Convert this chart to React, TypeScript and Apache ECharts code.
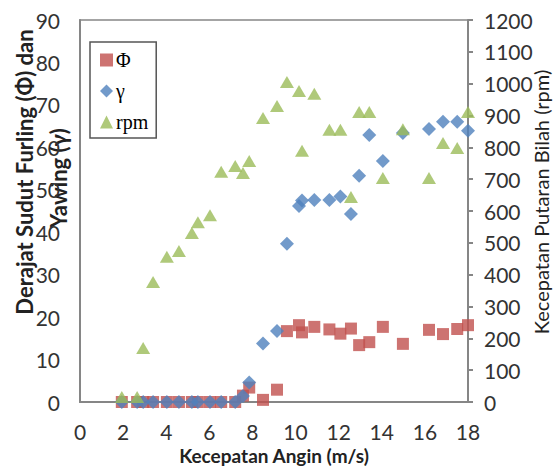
import React, { useEffect, useRef } from "react";
import * as echarts from "echarts";

const windSpeed = [1.94, 2.65, 2.93, 3.39, 4.03, 4.59, 5.19, 5.47, 6.03, 6.55, 7.2, 7.56, 7.85, 8.49, 9.14, 9.6, 10.16, 10.3, 10.87, 11.57, 12.08, 12.57, 12.95, 13.42, 14.05, 14.98, 16.19, 16.84, 17.5, 18.0];
const phiValues = [0, 0, 0, 0, 0, 0, 0, 0, 0, 0, 0, 1.5, 3.4, 0.5, 2.9, 16.7, 18.1, 16.4, 17.7, 17.1, 16.1, 17.3, 13.4, 14.1, 17.7, 13.7, 17.0, 16.0, 17.2, 18.1];
const gammaValues = [0, 0, 0, 0, 0, 0, 0, 0, 0, 0, 0, 1.4, 4.6, 13.8, 16.7, 37.3, 46.2, 47.5, 47.6, 47.6, 48.4, 44.3, 53.3, 62.9, 56.8, 63.4, 64.3, 66.0, 66.0, 63.9];
const rpmValues = [16, 16, 170, 377, 456, 474, 531, 565, 587, 723, 741, 719, 757, 892, 930, 1005, 977, 789, 968, 855, 855, 644, 911, 911, 704, 857, 704, 814, 798, 911];

const seriesNames = ["Φ", "γ", "rpm"];
const xTitle = "Kecepatan Angin (m/s)";
const leftTitle1 = "Derajat Sudut Furling (Φ) dan";
const leftTitle2 = "Yawing (γ)";
const rightTitle = "Kecepatan Putaran Bilah (rpm)";

const pair = (ys: number[]) => windSpeed.map((x, i) => [x, ys[i]]);

export default function App() {
  const ref = useRef<HTMLDivElement>(null);
  useEffect(() => {
    document.body.style.margin = "0";
    const chart = echarts.init(ref.current!, null, { renderer: "svg" });
    const font = "Lato, 'Open Sans', sans-serif";
    const axisColor = "#868686";
    const labelStyle = { color: "#333", fontSize: 21, fontFamily: font, formatter: (v: number) => String(v) };
    chart.setOption({
      animation: false,
      backgroundColor: "#fff",
      grid: { left: 80, right: 91, top: 20, bottom: 66, show: true, borderColor: axisColor, borderWidth: 1.5 },
      legend: {
        orient: "vertical",
        left: 90,
        top: 42,
        padding: [8, 8, 6, 10],
        itemGap: 11,
        itemWidth: 13,
        itemHeight: 13,
        borderColor: "#555",
        borderWidth: 1.5,
        data: seriesNames,
        textStyle: { fontFamily: "'Liberation Serif', serif", fontSize: 20, color: "#000", padding: [0, 0, 0, -2] },
      },
      xAxis: {
        type: "value",
        min: 0,
        max: 18,
        interval: 2,
        axisLine: { show: true, lineStyle: { color: axisColor, width: 2 } },
        axisTick: { show: false },
        splitLine: { show: false },
        axisLabel: { ...labelStyle, margin: 19 },
      },
      yAxis: [
        {
          type: "value",
          min: 0,
          max: 90,
          interval: 10,
          position: "left",
          axisLine: { show: true, lineStyle: { color: axisColor, width: 2 } },
          axisTick: { show: false },
          splitLine: { show: false },
          axisLabel: { ...labelStyle, margin: 20 },
        },
        {
          type: "value",
          min: 0,
          max: 1200,
          interval: 100,
          position: "right",
          axisLine: { show: true, lineStyle: { color: axisColor, width: 2 } },
          axisTick: { show: true, length: 5, lineStyle: { color: axisColor, width: 2 } },
          splitLine: { show: false },
          axisLabel: { ...labelStyle, margin: 16 },
        },
      ],
      series: [
        {
          name: seriesNames[0],
          type: "scatter",
          yAxisIndex: 0,
          symbol: "rect",
          symbolSize: 12,
          itemStyle: { color: "#C0504D" },
          data: pair(phiValues),
        },
        {
          name: seriesNames[1],
          type: "scatter",
          yAxisIndex: 0,
          symbol: "diamond",
          symbolSize: 14,
          itemStyle: { color: "#4F81BD" },
          data: pair(gammaValues),
        },
        {
          name: seriesNames[2],
          type: "scatter",
          yAxisIndex: 1,
          symbol: "triangle",
          symbolSize: [14, 12],
          itemStyle: { color: "#9BBB59" },
          data: pair(rpmValues),
        },
      ],
      graphic: [
        {
          type: "text",
          x: 274,
          y: 455,
          style: { text: xTitle, fontSize: 19, fontWeight: "bold", fontFamily: font, fill: "#222", align: "center", verticalAlign: "middle" },
        },
        {
          type: "text",
          x: 24,
          y: 172,
          rotation: Math.PI / 2,
          style: { text: leftTitle1, fontSize: 22, fontWeight: "bold", fontFamily: font, fill: "#222", align: "center", verticalAlign: "middle" },
        },
        {
          type: "text",
          x: 58,
          y: 178,
          rotation: Math.PI / 2,
          style: { text: leftTitle2, fontSize: 22, fontWeight: "bold", fontFamily: font, fill: "#222", align: "center", verticalAlign: "middle" },
        },
        {
          type: "text",
          x: 541,
          y: 202,
          rotation: Math.PI / 2,
          style: { text: rightTitle, fontSize: 20, fontWeight: "normal", fontFamily: font, fill: "#222", align: "center", verticalAlign: "middle" },
        },
      ],
    });
    return () => chart.dispose();
  }, []);
  return <div ref={ref} style={{ width: 559, height: 468 }} />;
}
